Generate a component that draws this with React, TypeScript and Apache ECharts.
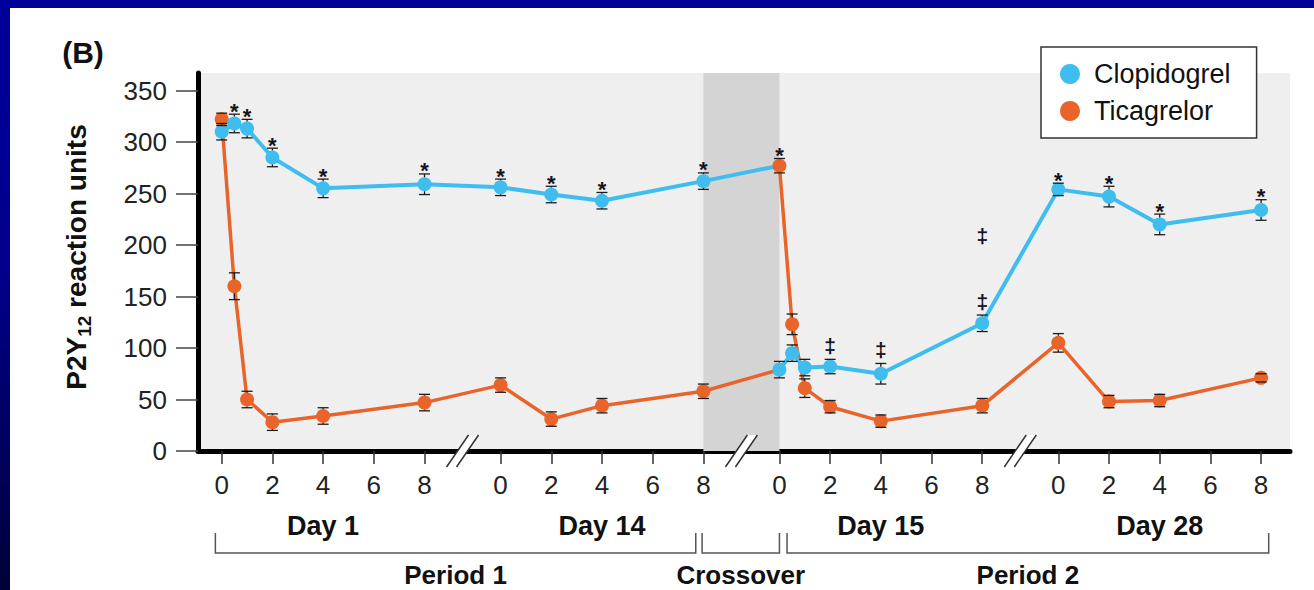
import React, { useEffect, useRef } from "react";
import * as echarts from "echarts";

// ---------- data ----------
const segmentOffsets = [0, 11, 22, 33]; // axis position of hour 0 for each study day
const dayLabels = ["Day 1", "Day 14", "Day 15", "Day 28"];
const dayLabelHour = 4;
const hourTicks = [0, 2, 4, 6, 8];
const yTicks = [0, 50, 100, 150, 200, 250, 300, 350];

const pointSegment = [0, 0, 0, 0, 0, 0, 1, 1, 1, 1, 2, 2, 2, 2, 2, 2, 3, 3, 3, 3];
const pointHour = [0, 0.5, 1, 2, 4, 8, 0, 2, 4, 8, 0, 0.5, 1, 2, 4, 8, 0, 2, 4, 8];
const periodOfSegment = [1, 1, 2, 2];

const clopidogrelMean = [310, 318, 313, 285, 255, 259, 256, 249, 243, 262, 79, 95, 81, 82, 75, 124, 254, 247, 220, 234];
const clopidogrelErr = [8, 9, 9, 9, 9, 10, 8, 8, 8, 8, 8, 8, 8, 7, 10, 8, 6, 10, 10, 10];
const clopidogrelMarks = ["", "*", "*", "*", "*", "*", "*", "*", "*", "*", "", "", "", "‡", "‡", "‡", "*", "*", "*", "*"];

const ticagrelorMean = [322, 160, 50, 28, 34, 47, 64, 31, 44, 58, 277, 123, 61, 43, 29, 44, 105, 48, 49, 71];
const ticagrelorErr = [6, 13, 8, 8, 8, 8, 7, 7, 7, 7, 7, 10, 9, 6, 6, 7, 9, 6, 6, 4];
const ticagrelorMarks = ["", "", "", "", "", "", "", "", "", "", "*", "", "", "", "", "", "", "", "", ""];

const extraMarkPos = [30];
const extraMarkValue = [209];
const extraMarkText = ["‡"];

const breakPositions = [9.5, 20.5, 31.5];
const crossoverBand = [19, 22];

const bracketLabels = ["Period 1", "Crossover", "Period 2"];
const bracketFrom = [-0.25, 18.95, 22.3];
const bracketTo = [18.7, 22, 41.3];

// ---------- derived ----------
const tickPositions = segmentOffsets.flatMap((o) => hourTicks.map((h) => o + h));
const tickLabels = segmentOffsets.flatMap(() => hourTicks.map((h) => String(h)));
const dayPositions = segmentOffsets.map((o) => o + dayLabelHour);
const pointX = pointSegment.map((s, i) => segmentOffsets[s] + pointHour[i]);
const pointPeriod = pointSegment.map((s) => periodOfSegment[s]);

const FONT = "'Liberation Sans', Arial, Helvetica, sans-serif";
const BLUE = "#3fbdee";
const ORANGE = "#e9642a";
const X_MIN = -0.935;
const X_MAX = 42.14;
const Y_MAX = 367;

function errorBars(marks: string[]) {
  return (params: any, api: any) => {
    const x = api.value(0);
    const m = api.value(1);
    const e = api.value(2);
    const c = api.coord([x, m]);
    const hi = api.coord([x, m + e]);
    const lo = api.coord([x, m - e]);
    const r = 7;
    const cw = 5.5;
    const style = { stroke: "#1c1c1c", lineWidth: 1.3 };
    const children: any[] = [];
    if (c[1] - hi[1] > r) children.push({ type: "line", shape: { x1: c[0], y1: hi[1], x2: c[0], y2: c[1] - r }, style });
    if (lo[1] - c[1] > r) children.push({ type: "line", shape: { x1: c[0], y1: c[1] + r, x2: c[0], y2: lo[1] }, style });
    children.push({ type: "line", shape: { x1: c[0] - cw, y1: hi[1], x2: c[0] + cw, y2: hi[1] }, style });
    children.push({ type: "line", shape: { x1: c[0] - cw, y1: lo[1], x2: c[0] + cw, y2: lo[1] }, style });
    const mark = marks[params.dataIndex];
    if (mark) {
      const isStar = mark === "*";
      children.push({
        type: "text",
        x: c[0],
        y: hi[1] - (isStar ? 3 : 14),
        style: {
          text: mark,
          fontFamily: FONT,
          fontSize: isStar ? 22 : 21,
          fontWeight: "bold",
          fill: "#141420",
          align: "center",
          verticalAlign: "middle",
        },
      });
    }
    return { type: "group", children };
  };
}

function lineSeries(name: string, data: number[][], color: string, width: number, z: number, symbol: boolean) {
  return {
    name,
    type: "line",
    data,
    symbol: symbol ? "circle" : "none",
    symbolSize: 14,
    showSymbol: symbol,
    itemStyle: { color },
    lineStyle: { color, width },
    z,
  };
}

export default function App() {
  const ref = useRef<HTMLDivElement>(null);
  useEffect(() => {
    if (!ref.current) return;
    const chart = echarts.init(ref.current, null, { renderer: "svg" });

    const pts = (means: number[], period: number) =>
      pointX.map((x, i) => [x, means[i], pointPeriod[i]]).filter((p) => p[2] === period).map((p) => [p[0], p[1]]);
    const lastP1 = pointPeriod.lastIndexOf(1);
    const firstP2 = pointPeriod.indexOf(2);
    // crossover: each patient group keeps its line colour into the Day 15 baseline
    const blueConnector = [[pointX[lastP1], clopidogrelMean[lastP1]], [pointX[firstP2], ticagrelorMean[firstP2]]];
    const orangeConnector = [[pointX[lastP1], ticagrelorMean[lastP1]], [pointX[firstP2], clopidogrelMean[firstP2]]];

    const clopErr = pointX.map((x, i) => [x, clopidogrelMean[i], clopidogrelErr[i]]);
    const ticaErr = pointX.map((x, i) => [x, ticagrelorMean[i], ticagrelorErr[i]]);

    const option: any = {
      animation: false,
      backgroundColor: "#ffffff",
      textStyle: { fontFamily: FONT },
      grid: {
        left: 198,
        right: 24,
        top: 73,
        bottom: 139,
        show: true,
        backgroundColor: "#efefef",
        borderWidth: 0,
      },
      legend: {
        data: ["Clopidogrel", "Ticagrelor"],
        orient: "vertical",
        left: 1041,
        top: 47,
        icon: "circle",
        itemWidth: 20,
        itemHeight: 20,
        itemGap: 7,
        padding: [12, 26, 12, 19],
        borderColor: "#333",
        borderWidth: 1.5,
        backgroundColor: "#ffffff",
        selectedMode: false,
        textStyle: { fontSize: 27, fontFamily: FONT, color: "#111", lineHeight: 30, padding: [0, 0, 0, 9] },
      },
      xAxis: [
        {
          type: "value",
          min: X_MIN,
          max: X_MAX,
          position: "bottom",
          axisLine: { show: true, onZero: false, lineStyle: { color: "#000", width: 5 } },
          axisTick: { show: true, length: 13, customValues: tickPositions, lineStyle: { color: "#333", width: 1.5 } },
          axisLabel: {
            show: true,
            customValues: tickPositions,
            margin: 21,
            fontSize: 26,
            color: "#222",
            fontFamily: FONT,
            formatter: (v: number) => {
              const i = tickPositions.findIndex((p) => Math.abs(p - v) < 1e-6);
              return i >= 0 ? tickLabels[i] : "";
            },
          },
          splitLine: { show: false },
        },
        {
          type: "value",
          min: X_MIN,
          max: X_MAX,
          position: "bottom",
          axisLine: { show: false, onZero: false },
          axisTick: { show: false },
          splitLine: { show: false },
          axisLabel: {
            show: true,
            customValues: dayPositions,
            margin: 61,
            fontSize: 27,
            fontWeight: "bold",
            color: "#111",
            fontFamily: FONT,
            formatter: (v: number) => {
              const i = dayPositions.findIndex((p) => Math.abs(p - v) < 1e-6);
              return i >= 0 ? dayLabels[i] : "";
            },
          },
        },
      ],
      yAxis: {
        type: "value",
        min: 0,
        max: Y_MAX,
        axisLine: { show: true, onZero: false, lineStyle: { color: "#000", width: 5 } },
        axisTick: { show: true, length: 22, customValues: yTicks, lineStyle: { color: "#444", width: 1.5 } },
        axisLabel: { show: true, customValues: yTicks, margin: 31, fontSize: 26, color: "#222", fontFamily: FONT },
        splitLine: { show: false },
      },
      graphic: [
        { type: "rect", left: 0, top: 0, shape: { width: 1314, height: 8 }, style: { fill: "#000099" }, z: 100 },
        {
          type: "rect",
          left: 0,
          top: 0,
          shape: { width: 10, height: 590 },
          style: {
            fill: new echarts.graphic.LinearGradient(0, 0, 0, 1, [
              { offset: 0, color: "#00009a" },
              { offset: 0.45, color: "#00008c" },
              { offset: 1, color: "#000038" },
            ]),
          },
          z: 100,
        },
        {
          type: "text",
          x: 83,
          y: 52,
          style: { text: "(B)", fontFamily: FONT, fontSize: 30, fontWeight: "bold", fill: "#111", align: "center", verticalAlign: "middle" },
        },
        {
          type: "text",
          x: 76,
          y: 257,
          rotation: Math.PI / 2,
          style: {
            text: "{a|P2Y}{b|12}{a| reaction units}",
            align: "center",
            verticalAlign: "middle",
            rich: {
              a: { fontFamily: FONT, fontSize: 28, fontWeight: "bold", fill: "#111", color: "#111", lineHeight: 28, verticalAlign: "top" },
              b: { fontFamily: FONT, fontSize: 19, fontWeight: "bold", fill: "#111", color: "#111", lineHeight: 19, padding: [13, 0, 0, 0], verticalAlign: "top" },
            },
          },
        },
      ],
      series: [
        {
          name: "band",
          type: "line",
          data: [],
          silent: true,
          markArea: {
            silent: true,
            itemStyle: { color: "#d4d4d4" },
            data: [[{ xAxis: crossoverBand[0] }, { xAxis: crossoverBand[1] }]],
          },
        },
        lineSeries("blueCrossover", blueConnector, BLUE, 4, 2, false),
        lineSeries("orangeCrossover", orangeConnector, ORANGE, 3.5, 2, false),
        lineSeries("Ticagrelor", pts(ticagrelorMean, 1), ORANGE, 3.5, 3, true),
        lineSeries("Ticagrelor", pts(ticagrelorMean, 2), ORANGE, 3.5, 3, true),
        lineSeries("Clopidogrel", pts(clopidogrelMean, 1), BLUE, 4, 4, true),
        lineSeries("Clopidogrel", pts(clopidogrelMean, 2), BLUE, 4, 4, true),
        {
          name: "ticaErr",
          type: "custom",
          data: ticaErr,
          renderItem: errorBars(ticagrelorMarks),
          encode: { x: 0, y: 1 },
          z: 5,
        },
        {
          name: "clopErr",
          type: "custom",
          data: clopErr,
          renderItem: errorBars(clopidogrelMarks),
          encode: { x: 0, y: 1 },
          z: 5,
        },
        {
          name: "extraMarks",
          type: "custom",
          data: extraMarkPos.map((p, i) => [p, extraMarkValue[i]]),
          encode: { x: 0, y: 1 },
          z: 5,
          renderItem: (params: any, api: any) => {
            const p = api.coord([api.value(0), api.value(1)]);
            return {
              type: "text",
              x: p[0],
              y: p[1],
              style: { text: extraMarkText[params.dataIndex], fontFamily: FONT, fontSize: 21, fontWeight: "bold", fill: "#141420", align: "center", verticalAlign: "middle" },
            };
          },
        },
        {
          name: "breaks",
          type: "custom",
          data: breakPositions.map((p) => [p, 0]),
          encode: { x: 0, y: 1 },
          z: 6,
          renderItem: (params: any, api: any) => {
            const c = api.coord([api.value(0), 0]);
            const cx = c[0];
            const cy = c[1];
            const h = 16;
            const s = 11;
            const d = 5;
            const ls = { stroke: "#333", lineWidth: 1.5 };
            return {
              type: "group",
              children: [
                {
                  type: "polygon",
                  shape: { points: [[cx - d - s, cy + h], [cx + d - s, cy + h], [cx + d + s, cy - h], [cx - d + s, cy - h]] },
                  style: { fill: "#ffffff" },
                },
                { type: "line", shape: { x1: cx - d - s, y1: cy + h, x2: cx - d + s, y2: cy - h }, style: ls },
                { type: "line", shape: { x1: cx + d - s, y1: cy + h, x2: cx + d + s, y2: cy - h }, style: ls },
              ],
            };
          },
        },
        {
          name: "brackets",
          type: "custom",
          data: bracketFrom.map((f, i) => [f, bracketTo[i], 0]),
          encode: { x: [0, 1] },
          z: 6,
          renderItem: (params: any, api: any) => {
            const a = api.coord([api.value(0), 0]);
            const b = api.coord([api.value(1), 0]);
            const y0 = a[1];
            const top = y0 + 82;
            const bot = y0 + 102;
            const ls = { stroke: "#555", lineWidth: 1.5, fill: "none" };
            return {
              type: "group",
              children: [
                { type: "polyline", shape: { points: [[a[0], top], [a[0], bot], [b[0], bot], [b[0], top]] }, style: ls },
                {
                  type: "text",
                  x: (a[0] + b[0]) / 2,
                  y: y0 + 124,
                  style: {
                    text: bracketLabels[params.dataIndex],
                    fontFamily: FONT,
                    fontSize: 26,
                    fontWeight: "bold",
                    fill: "#111",
                    align: "center",
                    verticalAlign: "middle",
                  },
                },
              ],
            };
          },
        },
      ],
    };
    chart.setOption(option);
    return () => chart.dispose();
  }, []);
  return <div ref={ref} style={{ position: "absolute", left: 0, top: 0, width: 1314, height: 590 }} />;
}
